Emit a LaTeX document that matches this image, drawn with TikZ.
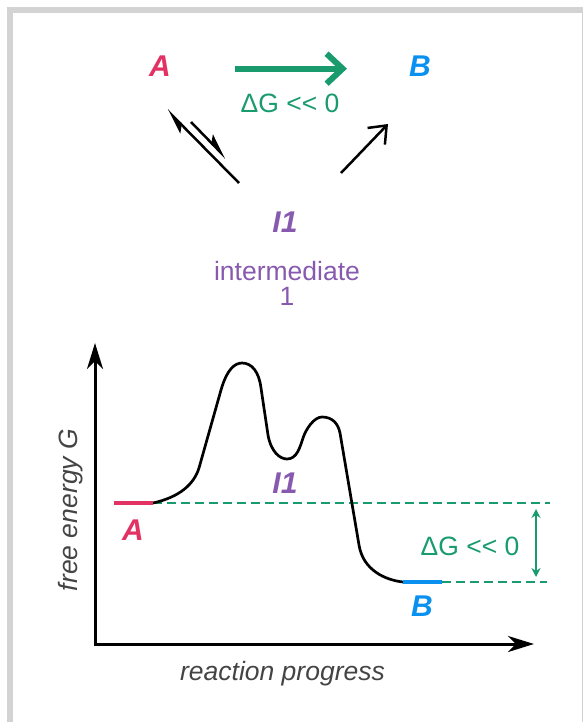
\documentclass[tikz,border=0pt]{standalone}
\usepackage{fontspec}
\setmainfont{Liberation Sans}
\usetikzlibrary{arrows.meta}
\definecolor{cA}{RGB}{226,50,100}
\definecolor{cB}{RGB}{10,145,240}
\definecolor{cG}{RGB}{25,155,110}
\definecolor{cP}{RGB}{135,90,175}
\definecolor{cT}{RGB}{68,68,68}
\definecolor{cF}{RGB}{211,211,211}
\begin{document}
\begin{tikzpicture}[x=1pt,y=-1pt,
  txt/.style={inner sep=0pt, font=\fontsize{26.5}{25}\selectfont},
  lbl/.style={inner sep=0pt, font=\fontsize{30}{30}\selectfont\bfseries\itshape},
  bigarrow/.style={draw=cG, line width=6pt, -{Straight Barb[length=16pt,width=30pt]}},
  harp/.style={line width=2.5pt, -{Stealth[left,length=22pt,width=14pt,inset=5pt]}},
  thinarrow/.style={line width=2.5pt, -{Straight Barb[length=15pt,width=24pt]}},
  axis/.style={line width=3pt, -{Stealth[length=26pt,width=16pt,inset=8pt]}},
  curve/.style={line width=2.7pt, line join=round},
  level/.style={line width=4.5pt},
  dashline/.style={draw=cG, line width=2.5pt, dash pattern=on 9pt off 5pt},
  dblarrow/.style={draw=cG, line width=2.5pt, {Stealth[length=9pt,width=9pt]}-{Stealth[length=9pt,width=9pt]}}
]
\useasboundingbox (0,0) rectangle (583,722);
% frame
\draw[cF, line width=6pt] (10.3,722) -- (10.3,10.3) -- (583,10.3);
\draw[cF, line width=1pt] (582,10) -- (582,722);

% top scheme
\node[lbl, text=cA, anchor=base] (A) at (160,77) {A};
\node[lbl, text=cB, anchor=base] (B) at (420,77) {B};
\node[lbl, text=cP, anchor=base] (I1) at (285,232) {I1};
\node[txt, text=cG, anchor=base] (dGt) at (290,113) {ΔG {<}{<} 0};
\node[txt, text=cP, align=center] (inter) at (287,283) {intermediate\\1};

\draw[bigarrow] ([xshift=64pt,yshift=-2pt]A.east) -- ([xshift=-62pt,yshift=-2pt]B.west);

\coordinate (h1s) at (239,183);
\coordinate (h1e) at (167,110);
\coordinate (h2s) at (191,122);
\coordinate (h2e) at (226,158);
\draw[harp] (h1s) -- (h1e);
\draw[harp] (h2s) -- (h2e);
\coordinate (r1) at (341,173);
\coordinate (r2) at (388,124);
\draw[thinarrow] (r1) -- (r2);

% energy diagram
\coordinate (O) at (95,644);
\coordinate (Ytip) at (95,343);
\coordinate (Xtip) at (534,644);
\draw[axis] (O) -- (Ytip);
\draw[axis] ([xshift=-1.5pt]O) -- (Xtip);

\node[txt, text=cT, font=\fontsize{26.5}{25}\selectfont\itshape, anchor=base, rotate=90] (ylab) at (77,510) {free energy G};
\node[txt, text=cT, font=\fontsize{26.5}{25}\selectfont\itshape, anchor=base] (xlab) at (282.5,680) {reaction progress};

\coordinate (Astart) at (114,503);
\coordinate (Aend) at (153,503);
\coordinate (Bstart) at (403,582);
\coordinate (Bend) at (442,582);
\coordinate (dA) at (550,503);
\coordinate (dB) at (547,582);

\draw[dashline] (Aend) -- (dA);
\draw[dashline] (Bend) -- (dB);

\draw[curve] (Aend) .. controls (180,497) and (194,484) .. (199,468)
  -- (221,390)
  .. controls (227,369) and (235,363) .. (242,363)
  .. controls (252,363) and (259,372) .. (261,388)
  -- (268,435)
  .. controls (271,452) and (280,459) .. (287,459)
  .. controls (297,459) and (300,447) .. (303,438)
  .. controls (306,429) and (314,417) .. (322,417)
  .. controls (332,417) and (338,423) .. (340,433)
  -- (359,545)
  .. controls (363,570) and (385,580) .. (Bstart);

\draw[level, cA] (Astart) -- (Aend);
\draw[level, cB] (Bstart) -- (Bend);

\coordinate (dgT) at (536,509);
\coordinate (dgB) at (536,577);
\draw[dblarrow] (dgT) -- (dgB);

\node[lbl, text=cA, anchor=base] (Ap) at (133,540) {A};
\node[lbl, text=cB, anchor=base] (Bp) at (422,616) {B};
\node[lbl, text=cP, anchor=base] (I1p) at (285,493) {I1};
\node[txt, text=cG, anchor=base] (dGp) at (470,555) {ΔG {<}{<} 0};
\end{tikzpicture}
\end{document}
